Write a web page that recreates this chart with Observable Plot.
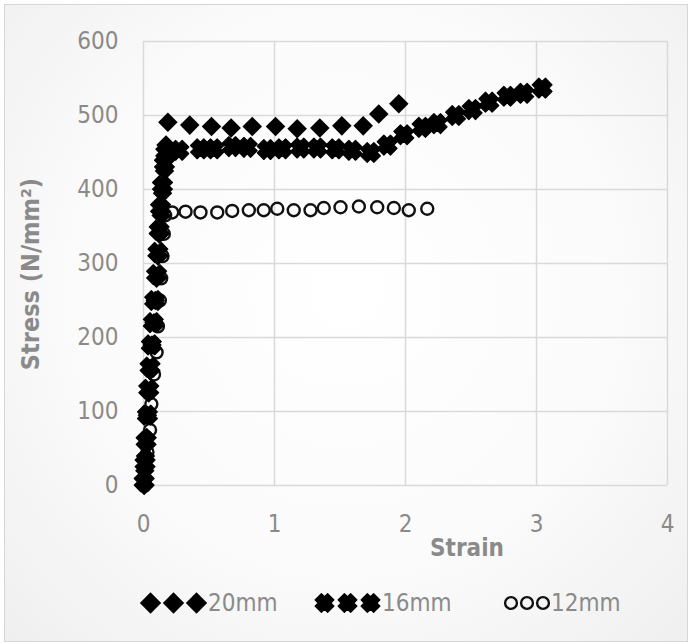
<!DOCTYPE html>
<html>
<head>
<meta charset="utf-8">
<script src="https://cdn.jsdelivr.net/npm/d3@7"></script>
<script src="https://cdn.jsdelivr.net/npm/@observablehq/plot@0.6"></script>
<style>
  html, body { margin: 0; padding: 0; background: #fff; }
  #wrap { position: relative; width: 691px; height: 644px; overflow: hidden; }
  #panel { position: absolute; left: 4px; top: 4px; width: 682px; height: 636px;
    border: 1.5px solid #d6d6d6;
    background: radial-gradient(ellipse at 50% 45%, #ffffff 0%, #fbfbfb 55%, #efefef 100%); }
  #chart { position: absolute; left: 0; top: 0; }
  .legend { position: absolute; top: 588px; left: 0; width: 691px; height: 30px;
    font-family: "Liberation Sans Narrow", "DejaVu Sans Condensed", sans-serif; font-size: 24px; color: #8a8a8a; }
  .item { position: absolute; top: 0; display: flex; align-items: center; height: 30px; }
  .item svg { display: block; }
</style>
</head>
<body>
<div id="wrap">
  <div id="panel"></div>
  <div id="chart"></div>
  <div class="legend" id="legend"></div>
</div>
<script>
// ---------- data ----------
const seriesNames = ["20mm", "16mm", "12mm"];

const strain20 = [0.005, 0.01, 0.015, 0.025, 0.03, 0.04, 0.05, 0.065, 0.08, 0.09, 0.10, 0.11, 0.12, 0.135, 0.145, 0.16, 0.172,
  0.186, 0.353, 0.519, 0.669, 0.83, 1.008, 1.173, 1.346, 1.514, 1.677, 1.796, 1.949];
const stress20 = [0, 20, 40, 65, 95, 125, 155, 190, 220, 250, 280, 310, 340, 365, 395, 425, 460,
  491, 487, 485, 483, 485, 485, 482, 483, 486, 486, 502, 516];

const strain16 = [0.005, 0.012, 0.02, 0.03, 0.04, 0.05, 0.06, 0.075, 0.085, 0.10, 0.11, 0.12, 0.13, 0.145, 0.16, 0.17,
  0.27, 0.435, 0.537, 0.677, 0.792, 0.944, 1.059, 1.198, 1.326, 1.466, 1.593, 1.733, 1.86, 1.987, 2.127, 2.242,
  2.382, 2.509, 2.636, 2.776, 2.903, 3.043];
const stress16 = [5, 30, 60, 95, 130, 160, 190, 220, 250, 285, 315, 345, 375, 405, 435, 450,
  453, 455, 455, 458, 457, 454, 455, 456, 456, 455, 453, 450, 460, 474, 484, 489,
  500, 508, 518, 526, 530, 537];

const strain12 = [0.01, 0.03, 0.05, 0.06, 0.08, 0.10, 0.11, 0.125, 0.135, 0.145, 0.155, 0.165,
  0.219, 0.321, 0.435, 0.563, 0.677, 0.804, 0.918, 1.021, 1.147, 1.275, 1.376, 1.504, 1.644, 1.784, 1.911, 2.025, 2.166];
const stress12 = [10, 45, 75, 110, 150, 180, 215, 250, 280, 310, 340, 365,
  369, 370, 369, 369, 371, 372, 372, 374, 372, 372, 375, 376, 377, 376, 375, 372, 374];

const xTicks = [0, 1, 2, 3, 4];
const yTicks = [0, 100, 200, 300, 400, 500, 600];
const xTitle = "Strain";
const yTitle = "Stress (N/mm²)";

const toRows = (xs, ys) => xs.map((x, i) => ({strain: x, stress: ys[i]}));
const d20 = toRows(strain20, stress20);
const d16 = toRows(strain16, stress16);
const d12 = toRows(strain12, stress12);

// fat "X" marker like the spreadsheet's cross symbol
const fatX = {
  draw(ctx, size) {
    const s = Math.sqrt(size) / 2 * 1.2, t = s * 0.5, k = Math.SQRT1_2;
    const pts = [[-t,-s],[t,-s],[t,-t],[s,-t],[s,t],[t,t],[t,s],[-t,s],[-t,t],[-s,t],[-s,-t],[-t,-t]]
      .map(([x, y]) => [(x - y) * k, (x + y) * k]);
    ctx.moveTo(pts[0][0], pts[0][1]);
    for (let i = 1; i < pts.length; i++) ctx.lineTo(pts[i][0], pts[i][1]);
    ctx.closePath();
  }
};

const FONT = '"Liberation Sans Narrow", "DejaVu Sans Condensed", sans-serif';
const GRID = "#d9d9d9";

const plot = Plot.plot({
  width: 691,
  height: 560,
  marginLeft: 143,
  marginRight: 24,
  marginTop: 41,
  marginBottom: 75,
  style: {background: "transparent", fontFamily: FONT, fontSize: "24px", color: "#8a8a8a", overflow: "visible"},
  x: {domain: [0, 4], ticks: xTicks, tickSize: 0, tickPadding: 29, label: null, tickFormat: d3.format("d")},
  y: {domain: [0, 600], ticks: yTicks, tickSize: 0, tickPadding: 25, label: null, tickFormat: d3.format("d")},
  marks: [
    Plot.ruleX(xTicks, {stroke: GRID, strokeWidth: 1.5}),
    Plot.ruleY(yTicks, {stroke: GRID, strokeWidth: 1.5}),
    Plot.dot(d12, {x: "strain", y: "stress", symbol: "circle", r: 6, stroke: "#111", strokeWidth: 2.4, fill: "none"}),
    Plot.dot(d16, {x: "strain", y: "stress", symbol: fatX, r: 8.8, fill: "#000", stroke: "#000", strokeWidth: 1.2, strokeLinejoin: "round"}),
    Plot.dot(d20, {x: "strain", y: "stress", symbol: "diamond2", r: 8.8, fill: "#000"})
  ]
});
document.getElementById("chart").appendChild(plot);

// axis titles
const svg = d3.select(plot);
svg.append("text").text(xTitle)
  .attr("x", 467).attr("y", 556).attr("text-anchor", "middle")
  .attr("font-family", FONT).attr("font-size", 24).attr("font-weight", "bold").attr("fill", "#8a8a8a");
svg.append("text").text(yTitle)
  .attr("transform", "translate(39,274) rotate(-90)").attr("text-anchor", "middle")
  .attr("font-family", FONT).attr("font-size", 25).attr("font-weight", "bold").attr("fill", "#8a8a8a");

// legend
const legend = d3.select("#legend");
const legendItems = [
  {name: seriesNames[0], left: 139, sym: d3.symbolDiamond2, size: 290, gap: 23, fill: "#000", stroke: "none", sw: 0},
  {name: seriesNames[1], left: 313, sym: fatX, size: 220, gap: 23, fill: "#000", stroke: "#000", sw: 1.2},
  {name: seriesNames[2], left: 503, sym: d3.symbolCircle, size: 110, gap: 16, fill: "none", stroke: "#111", sw: 2.4}
];
for (const it of legendItems) {
  const div = legend.append("div").attr("class", "item").style("left", it.left + "px");
  const w = it.gap * 3;
  const s = div.append("svg").attr("width", w).attr("height", 30);
  const path = d3.symbol(it.sym, it.size)();
  for (let i = 0; i < 3; i++) {
    s.append("path").attr("d", path)
      .attr("transform", `translate(${it.gap / 2 + i * it.gap},15)`)
      .attr("fill", it.fill).attr("stroke", it.stroke).attr("stroke-width", it.sw).attr("stroke-linejoin", "round");
  }
  div.append("span").text(it.name);
}
</script>
</body>
</html>
